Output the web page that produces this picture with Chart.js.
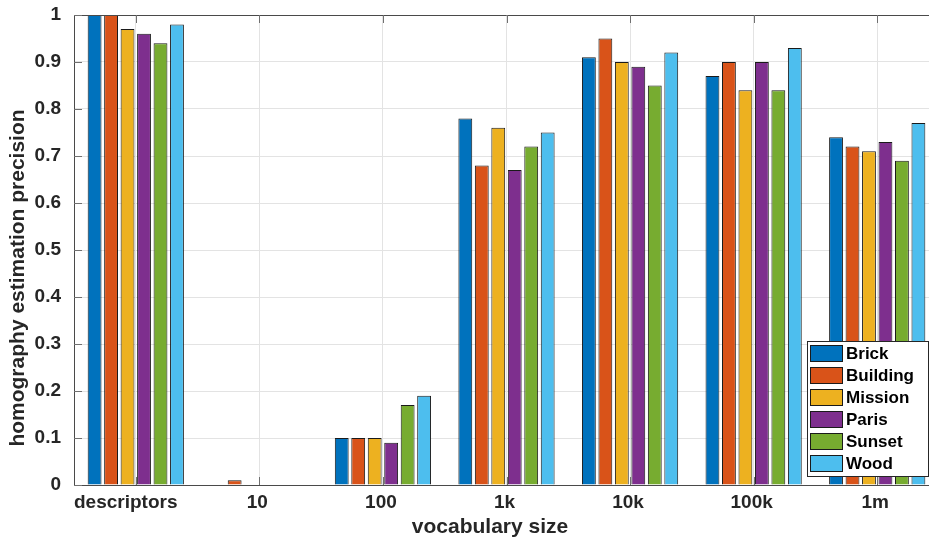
<!DOCTYPE html>
<html>
<head>
<meta charset="utf-8">
<script src="https://cdn.jsdelivr.net/npm/chart.js@4"></script>
<style>
  html, body { margin: 0; padding: 0; overflow: hidden; background: #fff; }
  #wrap { width: 942px; height: 540px; position: relative; }
</style>
</head>
<body>
<div id="wrap"><canvas id="c"></canvas></div>
<script>
// Vocabulary sizes on the x axis
const categories = ['descriptors', '10', '100', '1k', '10k', '100k', '1m'];

// Homography estimation precision per image set
const brick    = [1.00, 0.00, 0.10, 0.78, 0.91, 0.87, 0.74];
const building = [1.00, 0.01, 0.10, 0.68, 0.95, 0.90, 0.72];
const mission  = [0.97, 0.00, 0.10, 0.76, 0.90, 0.84, 0.71];
const paris    = [0.96, 0.00, 0.09, 0.67, 0.89, 0.90, 0.73];
const sunset   = [0.94, 0.00, 0.17, 0.72, 0.85, 0.84, 0.69];
const wood     = [0.98, 0.00, 0.19, 0.75, 0.92, 0.93, 0.77];

const seriesNames = ['Brick', 'Building', 'Mission', 'Paris', 'Sunset', 'Wood'];
const seriesValues = [brick, building, mission, paris, sunset, wood];
const seriesColors = ['#0072BD', '#D95319', '#EDB120', '#7E2F8E', '#77AC30', '#4DBEEE'];

const yTicks = [0, 0.1, 0.2, 0.3, 0.4, 0.5, 0.6, 0.7, 0.8, 0.9, 1];

const TEXT = '#262626';
const AXIS = '#4a4a4a';
const FONT = '"Liberation Sans", Arial, Helvetica, sans-serif';

// Box, inward ticks, category labels, axis titles and the boxed legend
const frame = {
  id: 'frame',
  afterDatasetsDraw(chart) {
    const { ctx, chartArea: a, scales: { x, y } } = chart;
    ctx.save();
    ctx.strokeStyle = AXIS;
    ctx.lineWidth = 1;
    ctx.beginPath();
    ctx.moveTo(a.left, a.top + 0.5);
    ctx.lineTo(a.right, a.top + 0.5);
    ctx.stroke();

    ctx.strokeStyle = '#707070';
    ctx.beginPath();
    categories.forEach((_, i) => {
      const px = Math.round(x.getPixelForTick(i)) + 0.5;
      ctx.moveTo(px, a.top); ctx.lineTo(px, a.top + 8);
      ctx.moveTo(px, a.bottom); ctx.lineTo(px, a.bottom - 8);
    });
    yTicks.forEach(v => {
      const py = Math.round(y.getPixelForValue(v)) + 0.5;
      ctx.moveTo(a.left, py); ctx.lineTo(a.left + 8, py);
    });
    ctx.stroke();

    // category labels; the first one starts at the left edge of the axes
    ctx.fillStyle = TEXT;
    ctx.font = 'bold 19px ' + FONT;
    ctx.textAlign = 'center';
    ctx.textBaseline = 'middle';
    categories.forEach((label, i) => {
      const w = ctx.measureText(label).width;
      const px = i === 0 ? a.left + w / 2 : x.getPixelForTick(i) - 2;
      ctx.fillText(label, px, a.bottom + 18);
    });

    // axis titles
    ctx.font = 'bold 21px ' + FONT;
    ctx.fillText('vocabulary size', 490, 527);
    ctx.save();
    ctx.translate(18, 278);
    ctx.rotate(-Math.PI / 2);
    ctx.fillText('homography estimation precision', 0, 0);
    ctx.restore();

    // legend
    const lx = 807, ly = 341, lw = 121, lh = 135;
    ctx.fillStyle = '#ffffff';
    ctx.fillRect(lx, ly, lw, lh);
    ctx.strokeStyle = TEXT;
    ctx.strokeRect(lx + 0.5, ly + 0.5, lw, lh);
    ctx.font = 'bold 17px ' + FONT;
    ctx.textAlign = 'left';
    chart.data.datasets.forEach((ds, i) => {
      const cy = 353 + 22 * i;
      ctx.fillStyle = ds.backgroundColor;
      ctx.fillRect(810, cy - 8, 32, 16);
      ctx.strokeStyle = '#1a1a1a';
      ctx.strokeRect(810.5, cy - 7.5, 32, 16);
      ctx.fillStyle = '#000';
      ctx.fillText(ds.label, 846, cy + 1);
    });
    ctx.restore();
  }
};

new Chart(document.getElementById('c'), {
  type: 'bar',
  data: {
    labels: categories,
    datasets: seriesNames.map((name, i) => ({
      label: name,
      data: seriesValues[i],
      backgroundColor: seriesColors[i],
      borderColor: '#1a1a1a',
      borderWidth: 1,
      categoryPercentage: 0.8,
      barPercentage: 0.84
    }))
  },
  options: {
    responsive: true,
    maintainAspectRatio: false,
    animation: false,
    layout: { padding: { top: 15, right: 3, left: 0, bottom: 0 } },
    plugins: { legend: { display: false }, tooltip: { enabled: false } },
    scales: {
      x: {
        offset: true,
        grid: { color: '#e3e3e3', offset: false, drawTicks: false },
        border: { color: AXIS, width: 1 },
        ticks: { display: false },
        afterFit(s) { s.height = 55; s.paddingLeft = 0; s.paddingRight = 0; }
      },
      y: {
        min: 0, max: 1,
        afterBuildTicks(s) { s.ticks = yTicks.map(v => ({ value: v })); },
        grid: { color: '#e3e3e3', drawTicks: false },
        border: { color: AXIS, width: 1 },
        ticks: {
          color: TEXT, font: { family: FONT, size: 19, weight: 'bold' }, padding: 13,
          callback: v => (v === 0 || v === 1) ? String(v) : v.toFixed(1)
        },
        afterFit(s) { s.width = 74; s.paddingTop = 0; s.paddingBottom = 0; }
      }
    }
  },
  plugins: [frame]
});
</script>
</body>
</html>
